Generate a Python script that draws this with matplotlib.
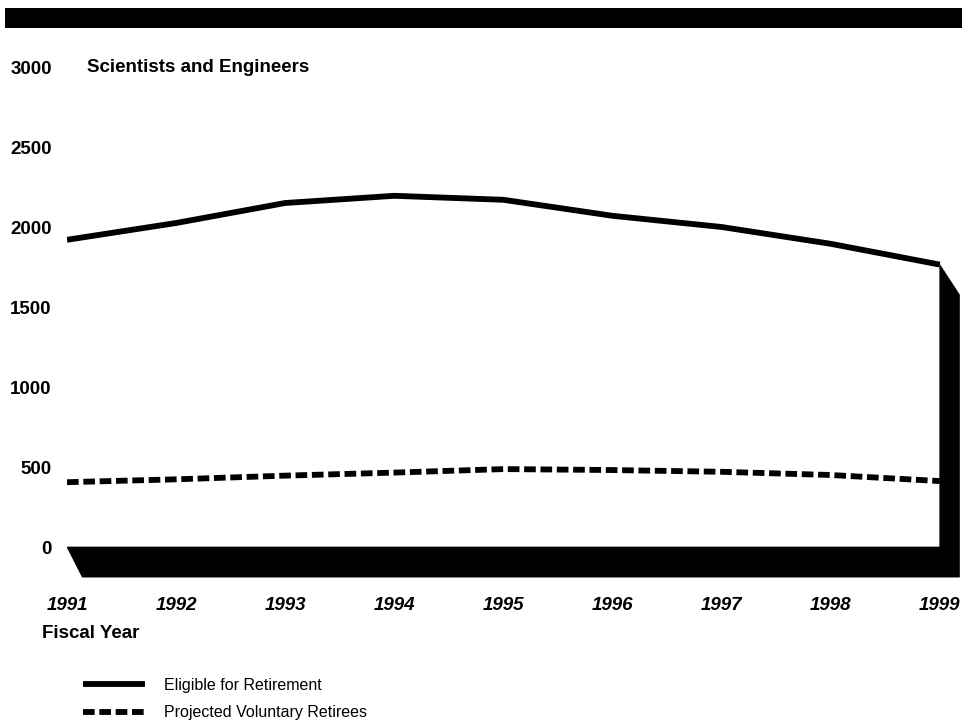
import matplotlib
matplotlib.use('Agg')
import matplotlib.pyplot as plt
from matplotlib.patches import Polygon, Rectangle
from matplotlib.lines import Line2D
import matplotlib.transforms as mtransforms

plt.rcParams['font.family'] = ['Liberation Sans', 'DejaVu Sans']

# fiscal years and series
years = [1991, 1992, 1993, 1994, 1995, 1996, 1997, 1998, 1999]
eligible = [1920, 2025, 2150, 2195, 2170, 2070, 2000, 1895, 1765]
voluntary = [405, 423, 446, 465, 487, 481, 470, 450, 412]
yticks = [0, 500, 1000, 1500, 2000, 2500, 3000]

W, H = 967, 723
fig = plt.figure(figsize=(W / 100, H / 100), dpi=100)
# axes: left edge at 1991, bottom just above the year labels
ax = fig.add_axes([67 / W, 1 - 590 / H, 900 / W, 550 / H])
ax.set_xlim(years[0], years[0] + 900 / 109.1)
ax.set_ylim(-268.75, 3168.75)
for s in ax.spines.values():
    s.set_visible(False)

# black "3d" floor and right wall
dx, dy = 0.18, 188
shade = Polygon([(years[0], 0), (years[-1], 0), (years[-1], eligible[-1]),
                 (years[-1] + dx, eligible[-1] - dy), (years[-1] + dx, -dy),
                 (years[0] + 0.14, -dy)],
                closed=True, facecolor='black', edgecolor='black', lw=0.5, zorder=1)
ax.add_patch(shade)

dash = (0, (2.0, 0.8))
ax.plot(years, eligible, color='black', lw=4.2, solid_capstyle='butt',
        solid_joinstyle='round', zorder=3)
ax.plot(years, voluntary, color='black', lw=4.2, linestyle=dash,
        dash_capstyle='butt', zorder=3)

ax.set_xticks(years)
ax.set_xticklabels([str(y) for y in years], fontsize=13.5, fontweight='bold',
                   style='italic')
ax.set_yticks(yticks)
ax.set_yticklabels([str(v) for v in yticks], fontsize=13.5, fontweight='bold')
ax.tick_params(axis='both', length=0)
ax.tick_params(axis='y', pad=11)
ax.tick_params(axis='x', pad=5)

trans = mtransforms.blended_transform_factory(ax.transAxes, ax.transData)
ax.text(20 / 900, 3000, 'Scientists and Engineers', transform=trans,
        fontsize=13.5, fontweight='bold', va='center', ha='left')

fig.text(42 / W, 1 - 634 / H, 'Fiscal Year', fontsize=13.5, fontweight='bold',
         va='center', ha='left')

# top black bar
fig.patches.append(Rectangle((5 / W, 1 - 28 / H), 957 / W, 20 / H,
                             transform=fig.transFigure, facecolor='black',
                             edgecolor='none'))

handles = [Line2D([], [], color='black', lw=4.2, solid_capstyle='butt'),
           Line2D([], [], color='black', lw=4.2, linestyle=dash,
                  dash_capstyle='butt')]
fig.legend(handles, ['Eligible for Retirement', 'Projected Voluntary Retirees'],
           loc='upper left', bbox_to_anchor=(83 / W, 1 - 678 / H),
           frameon=False, fontsize=11.5, handlelength=3.9, handletextpad=1.2,
           labelspacing=0.78, borderpad=0, borderaxespad=0)

fig.savefig('out.png', dpi=100)
